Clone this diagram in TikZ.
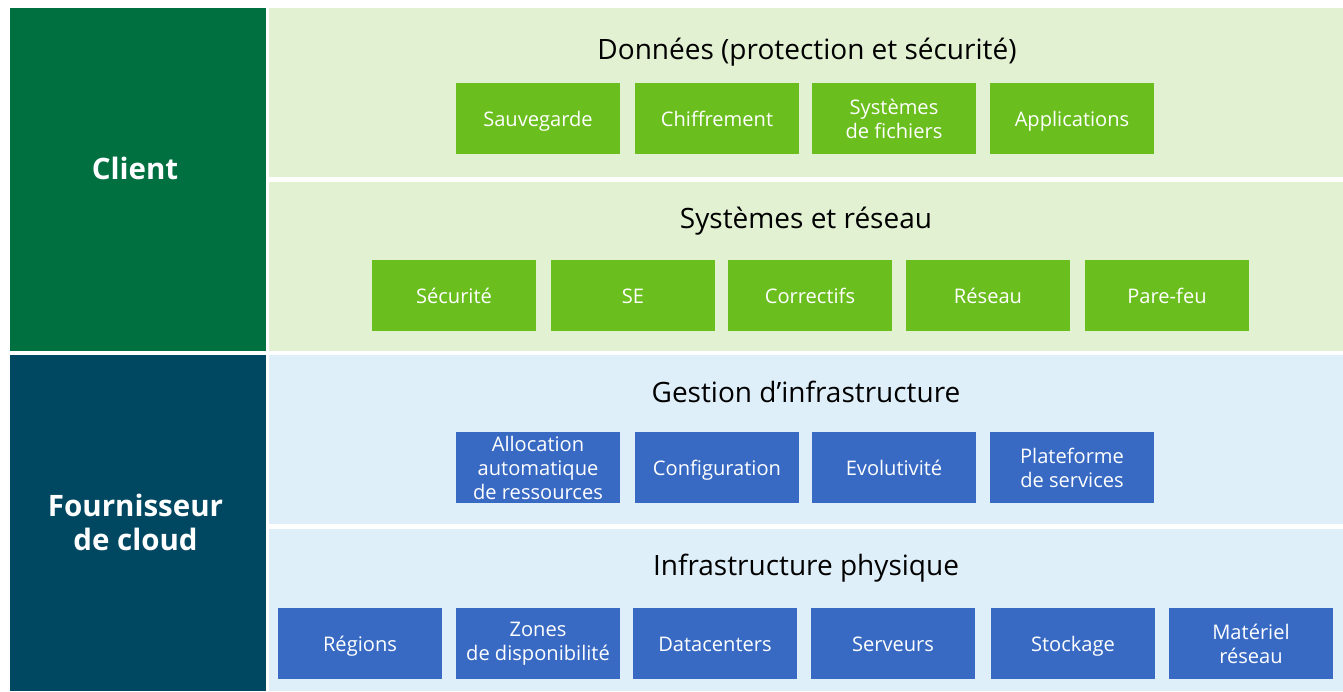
\documentclass[tikz,border=0pt]{standalone}
\usepackage{fontspec}
\setmainfont{Open Sans}
\definecolor{dkgreen}{HTML}{007041}
\definecolor{dkblue}{HTML}{004862}
\definecolor{ltgreen}{HTML}{E2F1D2}
\definecolor{ltblue}{HTML}{DFEFF9}
\definecolor{boxgreen}{HTML}{6ABF1E}
\definecolor{boxblue}{HTML}{386AC4}
\begin{document}
\begin{tikzpicture}[x=1pt,y=-1pt,
  side/.style={fill=#1,draw=none},
  panel/.style={fill=#1,draw=none},
  cell/.style={draw=none,minimum width=164pt,minimum height=71pt,inner sep=0pt,text=white,align=center,font=\fontsize{20.1}{24}\selectfont},
  gbox/.style={cell,fill=boxgreen},
  bbox/.style={cell,fill=boxblue},
  one/.style={text height=20.4pt,text depth=4pt},
  title/.style={font=\fontsize{28}{32}\selectfont,text=black,inner sep=0pt,anchor=base},
  sidelabel/.style={font=\bfseries\fontsize{29.5}{33.5}\selectfont,text=white,align=center,inner sep=0pt}]
\useasboundingbox (0,0) rectangle (1343,691);
\fill[white] (0,0) rectangle (1343,691);
% left column
\fill[side=dkgreen] (10,8) rectangle (266,351);
\fill[side=dkblue] (10,355) rectangle (266,691);
\node[sidelabel,anchor=base] (client) at (135,179.3) {Client};
\node[sidelabel] (fourn) at (135.5,522.5) {Fournisseur\\de cloud};
% panels
\fill[panel=ltgreen] (269,8) rectangle (1343,177);
\fill[panel=ltgreen] (269,182) rectangle (1343,351);
\fill[panel=ltblue] (269,355) rectangle (1343,524);
\fill[panel=ltblue] (269,529) rectangle (1343,691);
% titles
\node[title] (t1) at (807,59) {Données (protection et sécurité)};
\node[title] (t2) at (806,228.3) {Systèmes et réseau};
\node[title] (t3) at (806,402.7) {Gestion d’infrastructure};
\node[title] (t4) at (806,575.7) {Infrastructure physique};
% row 1
\node[gbox,one] (a1) at (538,118.5) {Sauvegarde};
\node[gbox,one] (a2) at (717,118.5) {Chiffrement};
\node[gbox] (a3) at (894,118.5) {Systèmes\\de fichiers};
\node[gbox,one] (a4) at (1072,118.5) {Applications};
% row 2
\node[gbox,one] (b1) at (454,295.5) {Sécurité};
\node[gbox,one] (b2) at (633,295.5) {SE};
\node[gbox,one] (b3) at (810,295.5) {Correctifs};
\node[gbox,one] (b4) at (988,295.5) {Réseau};
\node[gbox,one] (b5) at (1167,295.5) {Pare-feu};
% row 3
\node[bbox] (c1) at (538,467.5) {Allocation\\automatique\\de ressources};
\node[bbox,one] (c2) at (717,467.5) {Configuration};
\node[bbox,one] (c3) at (894,467.5) {Evolutivité};
\node[bbox] (c4) at (1072,467.5) {Plateforme\\de services};
% row 4
\node[bbox,one] (d1) at (360,643.5) {Régions};
\node[bbox] (d2) at (538,643.5) {Zones\\de disponibilité};
\node[bbox,one] (d3) at (715,643.5) {Datacenters};
\node[bbox,one] (d4) at (893,643.5) {Serveurs};
\node[bbox,one] (d5) at (1073,643.5) {Stockage};
\node[bbox] (d6) at (1251,643.5) {Matériel\\réseau};
\end{tikzpicture}
\end{document}
